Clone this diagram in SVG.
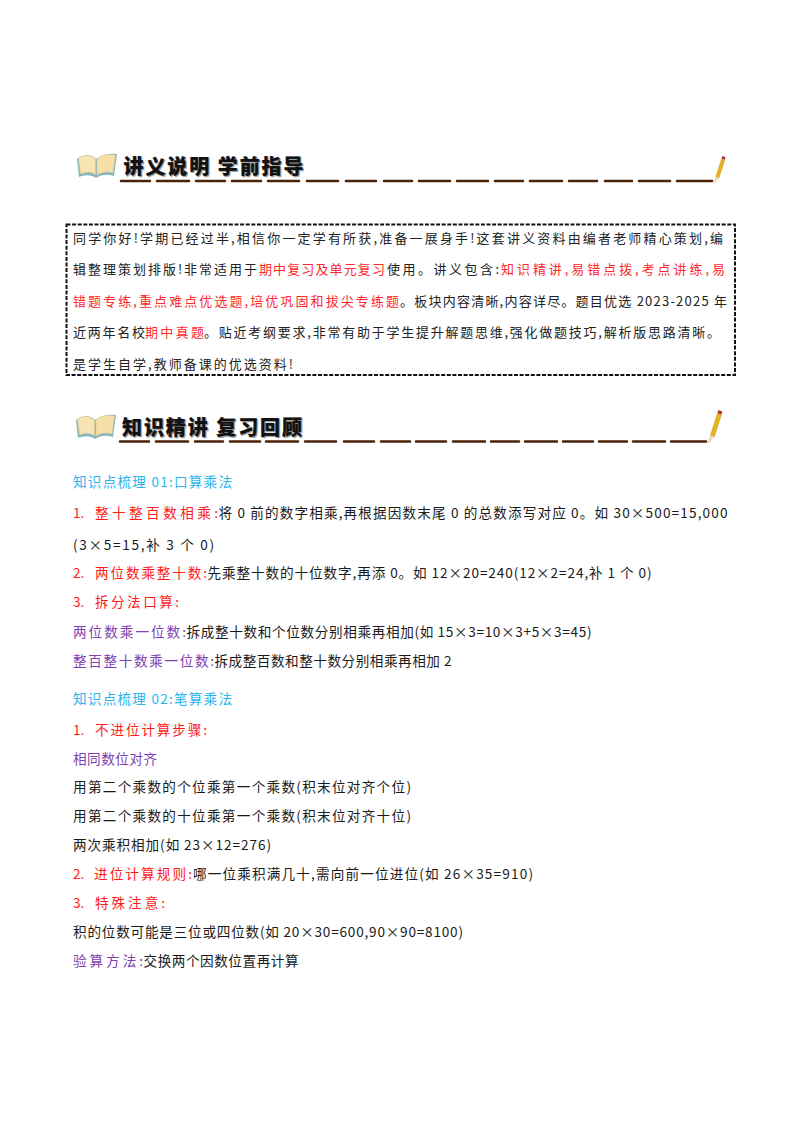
<svg xmlns="http://www.w3.org/2000/svg" width="800" height="1132" viewBox="0 0 800 1132">
<style>
text{font-family:"Noto Sans CJK SC","Liberation Sans",sans-serif;font-size:13.6px;fill:#1a1a1a;white-space:pre}
.b{font-size:13px;font-weight:400;fill:#222}
.r{fill:#ff1a1a}.p{fill:#7d3fb0}.c{fill:#2db4ee}
.b.r{fill:#ff2a2a}
.t{font-size:20px;font-weight:900;fill:#111;stroke:#111;stroke-width:.2}
.ts{font-size:20px;font-weight:900;fill:#a0a0a0;stroke:#a0a0a0;stroke-width:.6}
.d{stroke:#4a2408;stroke-width:2.600;stroke-linecap:round;fill:none}
</style>
<defs>
<g id="book">
<path d="M1 8C7 3 16 3 20 8C27 3 35 2 41 3L38 25C32 23 26 23 20 27C15 23 8 24 3 26Z" fill="#86b4c0"/>
<path d="M2.500 7C9 3 15 4 19.500 8L19.500 24C15 20 9 21 4.500 23Z" fill="#f8e4b2" stroke="#dcc88e" stroke-width=".6"/>
<path d="M21 8C26 3 34 3 39.500 4L37 22C31 20 26 21 21 24Z" fill="#f7e0a8" stroke="#dcc88e" stroke-width=".6"/>
</g>
<g id="pencil">
<path d="M0 0L3.500 -8L7.500 -6.500L1 1Z" fill="#e8d9b8"/>
<path d="M3.500 -8L10.500 -30L14.500 -28.500L7.500 -6.500Z" fill="#e8b31e" stroke="#b98a10" stroke-width=".4"/>
<path d="M10.500 -30L11.300 -33L15.300 -31.500L14.500 -28.500Z" fill="#a5392a"/>
</g>
</defs>
<rect width="800" height="1132" fill="#fff"/>
<g id="header-1">
<use href="#book" x="76" y="151"/>
<text class="ts" x="124.500" y="175" textLength="180">讲义说明 学前指导</text>
<text class="t" x="123.500" y="174" textLength="180">讲义说明 学前指导</text>
<path class="d" d="M121 181H150M157 181H189M196 181H225M232 181H261M268 181H299M307 181H338M346 181H376M384 181H412M419 181H450M457 181H488M495 181H523M530 181H562M569 181H597M605 181H632M639 181H670M677 181H712"/>
<use href="#pencil" transform="translate(713 183) scale(.82)"/>
</g>
<g id="intro-box">
<rect x="66.500" y="224.500" width="668.500" height="150.500" fill="none" stroke="#111" stroke-width="2" stroke-dasharray="4 1.600"/>
<text class="b" x="73" y="243" textLength="650">同学你好!学期已经过半,相信你一定学有所获,准备一展身手!这套讲义资料由编者老师精心策划,编</text>
<text class="b" x="73" y="274" textLength="184">辑整理策划排版!非常适用于</text>
<text class="b r" x="259" y="274" textLength="126">期中复习及单元复习</text>
<text class="b" x="387" y="274" textLength="112">使用。讲义包含:</text>
<text class="b r" x="501" y="274" textLength="224">知识精讲,易错点拨,考点讲练,易</text>
<text class="b r" x="73" y="305.500" textLength="326">错题专练,重点难点优选题,培优巩固和拔尖专练题</text>
<text class="b" x="400" y="305.500" textLength="327">。板块内容清晰,内容详尽。题目优选 2023-2025 年</text>
<text class="b" x="73" y="337" textLength="72">近两年名校</text>
<text class="b r" x="145" y="337" textLength="59">期中真题</text>
<text class="b" x="204" y="337" textLength="516">。贴近考纲要求,非常有助于学生提升解题思维,强化做题技巧,解析版思路清晰。</text>
<text class="b" x="73" y="369" textLength="220">是学生自学,教师备课的优选资料!</text>
</g>
<g id="header-2">
<use href="#book" x="75" y="412"/>
<text class="ts" x="123" y="436" textLength="180">知识精讲 复习回顾</text>
<text class="t" x="122" y="435" textLength="180">知识精讲 复习回顾</text>
<path class="d" d="M120 441.500H149M156 441.500H188M195 441.500H223M230 441.500H260M266 441.500H298M305 441.500H336M344 441.500H374M381 441.500H410M416 441.500H446M453 441.500H485M491 441.500H519M525 441.500H557M563 441.500H593M599 441.500H627M633 441.500H665M671 441.500H706"/>
<use href="#pencil" transform="translate(707 443)"/>
</g>
<g id="section-1">
<text class="c" x="73" y="487" textLength="159">知识点梳理 01:口算乘法</text>
<text class="r" x="73" y="518">1.</text>
<text class="r" x="95" y="518" textLength="123">整十整百数相乘:</text>
<text x="218.500" y="518" textLength="509">将 0 前的数字相乘,再根据因数末尾 0 的总数添写对应 0。如 30×500=15,000</text>
<text x="73" y="550" textLength="141">(3×5=15,补 3 个 0)</text>
<text class="r" x="73" y="578">2.</text>
<text class="r" x="95" y="578" textLength="112">两位数乘整十数:</text>
<text x="207.500" y="578" textLength="444">先乘整十数的十位数字,再添 0。如 12×20=240(12×2=24,补 1 个 0)</text>
<text class="r" x="73" y="607">3.</text>
<text class="r" x="95" y="607" textLength="84">拆分法口算:</text>
<text class="p" x="73" y="637" textLength="113">两位数乘一位数:</text>
<text x="186.500" y="637" textLength="405">拆成整十数和个位数分别相乘再相加(如 15×3=10×3+5×3=45)</text>
<text class="p" x="73" y="666" textLength="141">整百整十数乘一位数:</text>
<text x="214.500" y="666" textLength="237">拆成整百数和整十数分别相乘再相加 2</text>
</g>
<g id="section-2">
<text class="c" x="73" y="704" textLength="159">知识点梳理 02:笔算乘法</text>
<text class="r" x="73" y="735">1.</text>
<text class="r" x="95" y="735" textLength="112">不进位计算步骤:</text>
<text class="p" x="73" y="764" textLength="84">相同数位对齐</text>
<text x="73" y="792" textLength="338">用第二个乘数的个位乘第一个乘数(积末位对齐个位)</text>
<text x="73" y="821" textLength="338">用第二个乘数的十位乘第一个乘数(积末位对齐十位)</text>
<text x="73" y="850" textLength="198">两次乘积相加(如 23×12=276)</text>
<text class="r" x="73" y="879">2.</text>
<text class="r" x="94" y="879" textLength="98">进位计算规则:</text>
<text x="193" y="879" textLength="340">哪一位乘积满几十,需向前一位进位(如 26×35=910)</text>
<text class="r" x="73" y="908">3.</text>
<text class="r" x="95" y="908" textLength="70">特殊注意:</text>
<text x="73" y="937" textLength="390">积的位数可能是三位或四位数(如 20×30=600,90×90=8100)</text>
<text class="p" x="73" y="966" textLength="70">验算方法:</text>
<text x="143.500" y="966" textLength="155">交换两个因数位置再计算</text>
</g>
</svg>
